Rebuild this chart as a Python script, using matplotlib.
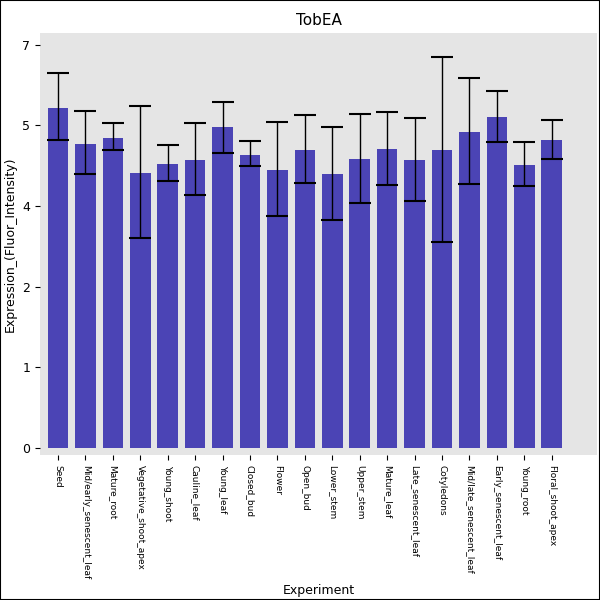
import numpy as np
import matplotlib.pyplot as plt

labels = ["Seed", "Mid/early_senescent_leaf", "Mature_root", "Vegetative_shoot_apex",
          "Young_shoot", "Cauline_leaf", "Young_leaf", "Closed_bud", "Flower", "Open_bud",
          "Lower_stem", "Upper_stem", "Mature_leaf", "Late_senescent_leaf", "Cotyledons",
          "Mid/late_senescent_leaf", "Early_senescent_leaf", "Young_root", "Floral_shoot_apex"]
values = [5.90, 5.28, 5.38, 4.77, 4.93, 5.00, 5.57, 5.09, 4.83, 5.17,
          4.76, 5.02, 5.19, 5.00, 5.17, 5.49, 5.75, 4.91, 5.35]
err_hi = [6.51, 5.85, 5.63, 5.94, 5.26, 5.64, 6.01, 5.33, 5.66, 5.78,
          5.57, 5.80, 5.83, 5.73, 6.79, 6.42, 6.20, 5.31, 5.69]
err_lo = [5.35, 4.76, 5.17, 3.65, 4.64, 4.39, 5.12, 4.90, 4.03, 4.60,
          3.96, 4.25, 4.57, 4.29, 3.58, 4.58, 5.30, 4.55, 5.02]

v = np.array(values)
yerr = [v - np.array(err_lo), np.array(err_hi) - v]
x = np.arange(len(labels))

fig = plt.figure(figsize=(6, 6), dpi=100)
ax = fig.add_axes([0.067, 0.242, 0.928, 0.703])
ax.set_facecolor("#e5e5e5")
ax.bar(x, v, width=0.75, color="#4b44b5", zorder=2)
ax.errorbar(x, v, yerr=yerr, fmt="none", ecolor="black", elinewidth=1,
            capsize=8, capthick=1.5, zorder=3)
ax.set_xlim(-0.65, len(labels) - 0.25 + 0.9)
ax.set_ylim(-0.12, 7.2)
ticks = np.arange(6) * 1.4
ax.set_yticks(ticks)
ax.set_yticklabels([str(int(t)) for t in ticks], fontsize=9)
ax.set_xticks(x)
ax.set_xticklabels(labels, rotation=270, fontsize=6.5)
for s in ax.spines.values():
    s.set_visible(False)
ax.set_title("TobEA", fontsize=11)
ax.set_xlabel("Experiment", fontsize=9)
ax.set_ylabel("Expression_(Fluor_Intensity)", fontsize=9)
fig.patches.append(plt.Rectangle((0, 0), 1, 1, transform=fig.transFigure,
                                 fill=False, edgecolor="black", lw=1.5))
fig.savefig("out.png")
